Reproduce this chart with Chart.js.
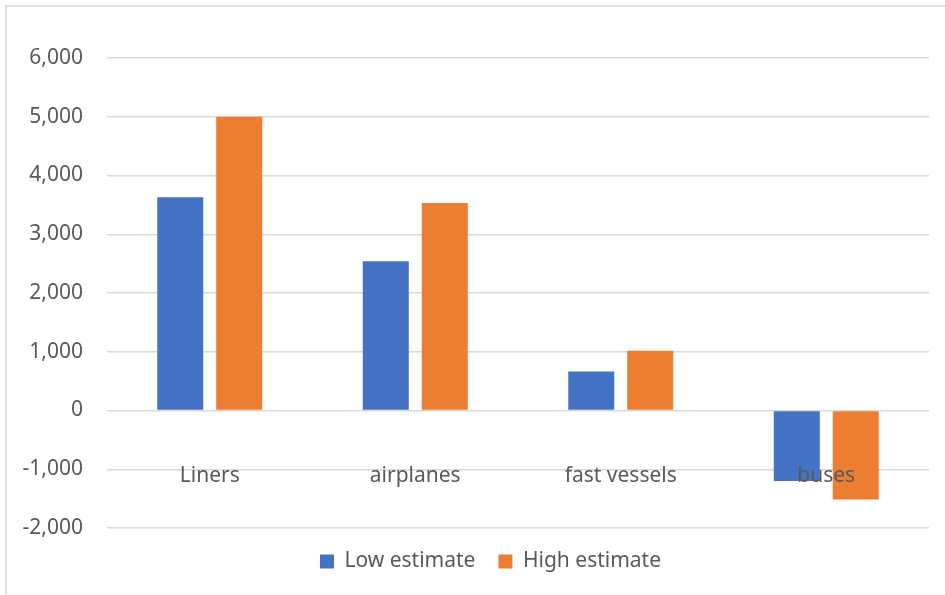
<!DOCTYPE html>
<html>
<head>
<meta charset="utf-8">
<script src="https://cdn.jsdelivr.net/npm/chart.js@4/dist/chart.umd.min.js"></script>
<style>
  html, body { margin: 0; padding: 0; background: #ffffff; }
  #wrap { position: relative; width: 945px; height: 595px; }
</style>
</head>
<body>
<div id="wrap"><canvas id="c" width="945" height="595"></canvas></div>
<script>
const categories = ["Liners", "airplanes", "fast vessels", "buses"];
const lowEstimate = [3630, 2540, 664, -1200];
const highEstimate = [5000, 3530, 1015, -1515];
const seriesNames = ["Low estimate", "High estimate"];
const yMin = -2000, yMax = 6000, yStep = 1000;

const FONT = "'Noto Sans', 'Open Sans', sans-serif";
const TEXT = "#595959";

const frame = {
  id: 'frame',
  beforeDraw(chart) {
    const ctx = chart.ctx;
    ctx.save();
    ctx.fillStyle = '#ffffff';
    ctx.fillRect(0, 0, chart.width, chart.height);
    ctx.strokeStyle = '#d9d9d9';
    ctx.lineWidth = 1.5;
    ctx.strokeRect(6, 6, chart.width + 50, chart.height + 50);
    ctx.restore();
  }
};

// shift the legend row so it is centred like the original
const legendShift = {
  id: 'legendShift',
  afterLayout(chart) {
    if (chart.legend) { chart.legend.left += 52; }
  }
};

new Chart(document.getElementById('c'), {
  type: 'bar',
  data: {
    labels: categories,
    datasets: [
      { label: seriesNames[0], data: lowEstimate, backgroundColor: '#4472C4', borderWidth: 0 },
      { label: seriesNames[1], data: highEstimate, backgroundColor: '#ED7D31', borderWidth: 0 }
    ]
  },
  options: {
    responsive: false,
    animation: false,
    devicePixelRatio: 1,
    categoryPercentage: 0.574,
    barPercentage: 0.78,
    layout: { padding: { left: 0, right: 16, top: 58, bottom: 13 } },
    plugins: {
      tooltip: { enabled: false },
      legend: {
        position: 'bottom',
        labels: {
          color: TEXT,
          font: { family: FONT, size: 21 },
          boxWidth: 14,
          boxHeight: 14,
          padding: 23
        }
      }
    },
    scales: {
      x: {
        position: { y: 0 },
        grid: { display: false, drawTicks: false },
        border: { display: false },
        ticks: { z: 1, color: TEXT, font: { family: FONT, size: 21 }, padding: 53, maxRotation: 0 }
      },
      y: {
        min: yMin,
        max: yMax,
        afterFit(scale) { scale.width = 107; },
        grid: { color: '#d9d9d9', lineWidth: 1.5, drawTicks: false },
        border: { display: false },
        ticks: {
          stepSize: yStep,
          color: TEXT,
          font: { family: FONT, size: 21 },
          padding: 24,
          callback: v => v.toLocaleString('en-US')
        }
      }
    }
  },
  plugins: [frame, legendShift]
});
</script>
</body>
</html>
